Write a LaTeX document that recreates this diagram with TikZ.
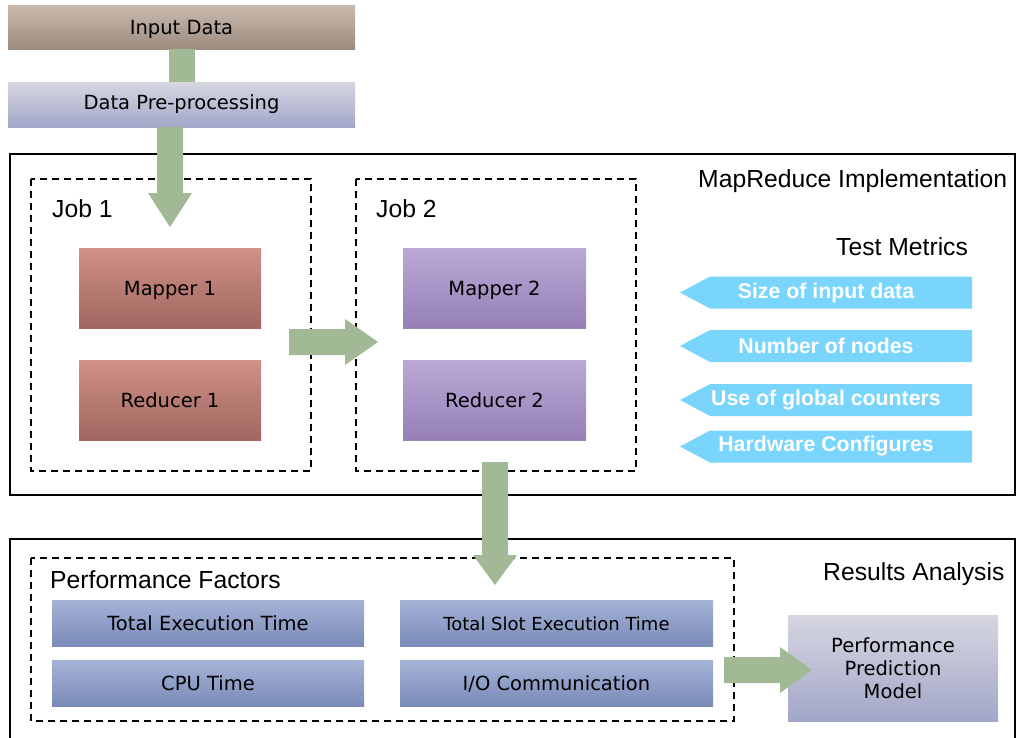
\documentclass[tikz,border=0pt]{standalone}
\usepackage{fontspec}
\setmainfont{DejaVu Sans}
\newfontfamily\helv{Liberation Sans}
\usetikzlibrary{calc}
\definecolor{grn}{RGB}{161,185,149}
\definecolor{cyanm}{RGB}{122,213,253}
\tikzset{
  grad/.style={shading=axis, shading angle=0, inner sep=0pt, align=center, font=\fontsize{19.5}{23}\selectfont},
  one/.style={text height=17pt, text depth=2pt},
  inbox/.style={grad, top color={rgb,255:red,201;green,186;blue,173}, bottom color={rgb,255:red,156;green,141;blue,128}},
  prebox/.style={grad, top color={rgb,255:red,214;green,214;blue,225}, bottom color={rgb,255:red,163;green,167;blue,200}},
  redbox/.style={grad, one, top color={rgb,255:red,208;green,145;blue,135}, bottom color={rgb,255:red,160;green,102;blue,95}},
  purbox/.style={grad, one, top color={rgb,255:red,186;green,169;blue,215}, bottom color={rgb,255:red,150;green,128;blue,182}},
  bluebox/.style={grad, one, top color={rgb,255:red,165;green,179;blue,215}, bottom color={rgb,255:red,122;green,139;blue,184}},
  frame/.style={draw=black, line width=1.4pt},
  dbox/.style={draw=black, line width=1.3pt, dash pattern=on 7pt off 5pt},
  hlabel/.style={font=\helv\fontsize{24.7}{28}\selectfont, anchor=west, inner sep=0pt},
  mlabel/.style={font=\helv\bfseries\fontsize{21.3}{24}\selectfont, text=white, inner sep=0pt},
}
\begin{document}
\begin{tikzpicture}[x=1pt,y=-1pt]
\useasboundingbox (0,0) rectangle (1016,737);
\fill[white] (0,0) rectangle (1016,737);

% frames
\draw[frame] (10,154) rectangle (1015,495);
\draw[frame] (10,539) rectangle (1015,745);
\node[hlabel] (mri) at (698,181) {MapReduce Implementation};
\node[hlabel] (ra) at (823,574) {Results Analysis};

% top boxes
\node[inbox, one, minimum width=347pt, minimum height=44pt] (input) at (181.5,27) {Input Data};
\node[prebox, minimum width=347pt, minimum height=45pt] (pre) at (181.5,104.5) {Data Pre-processing};
\fill[grn] ($(input.south)+(-13,0)$) rectangle ($(pre.north)+(13,0)$);

% jobs
\draw[dbox] (31,179) rectangle (311,471);
\draw[dbox] (356,179) rectangle (636,471);
\node[hlabel] (j1) at (52,209) {Job 1};
\node[hlabel] (j2) at (376,209) {Job 2};
\node[redbox, minimum width=182pt, minimum height=80pt] (m1) at (170,288) {Mapper 1};
\node[redbox, minimum width=182pt, minimum height=80pt] (r1) at (170,400) {Reducer 1};
\node[purbox, minimum width=183pt, minimum height=80pt] (m2) at (494.5,288) {Mapper 2};
\node[purbox, minimum width=183pt, minimum height=80pt] (r2) at (494.5,400) {Reducer 2};

% arrow pre -> mapper1
\fill[grn] (157,127) -- (157,193) -- (148,193) -- (170,227) -- (192,193) -- (183,193) -- (183,127) -- cycle;

% arrow job1 -> job2
\fill[grn] (289,329) -- (345,329) -- (345,319) -- (378,342) -- (345,365) -- (345,355) -- (289,355) -- cycle;

% test metrics
\node[hlabel] (tm) at (836,247) {Test Metrics};
\foreach \y/\t/\n in {292.5/Size of input data/a, 346/Number of nodes/b, 400/Use of global counters/c, 446.5/Hardware Configures/d}{
  \fill[cyanm] (680,\y) -- (710,\y-16) -- (972,\y-16) -- (972,\y+16) -- (710,\y+16) -- cycle;
  \node[mlabel] (tm\n) at (826,\y) {\t};
}

% performance factors
\draw[dbox] (31,558) rectangle (734,721);
\node[hlabel] (pf) at (50,580) {Performance Factors};
\node[bluebox, minimum width=312pt, minimum height=46pt] (te) at (208,623) {Total Execution Time};
\node[bluebox, minimum width=313pt, minimum height=46pt] (ts) at (556.5,623) {\fontsize{18}{21}\selectfont Total Slot Execution Time};
\node[bluebox, minimum width=312pt, minimum height=46pt] (cpu) at (208,683) {CPU Time};
\node[bluebox, minimum width=313pt, minimum height=46pt] (io) at (556.5,683) {I/O Communication};

% arrow job2 -> pf
\fill[grn] (482,462) -- (508,462) -- (508,555) -- (517,555) -- (495,585) -- (473,555) -- (482,555) -- cycle;

% prediction model
\node[prebox, minimum width=210pt, minimum height=106pt] (ppm) at (893,668) {Performance\\Prediction\\Model};
\fill[grn] (724,657) -- (780,657) -- (780,647) -- (812,670) -- (780,693) -- (780,683) -- (724,683) -- cycle;
\end{tikzpicture}
\end{document}
